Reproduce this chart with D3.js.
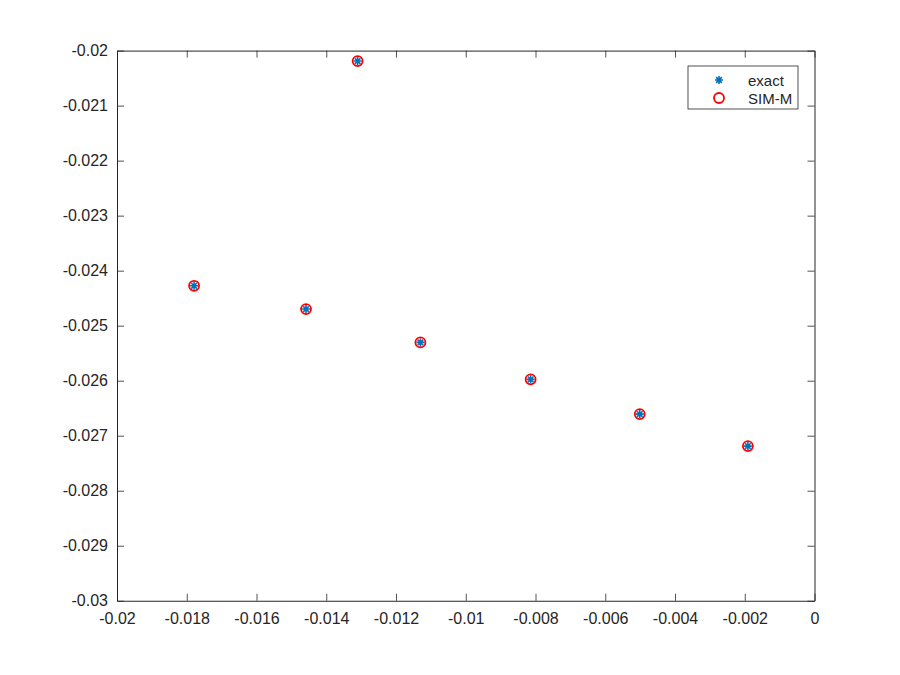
<!DOCTYPE html>
<html>
<head>
<meta charset="utf-8">
<script src="https://cdn.jsdelivr.net/npm/d3@7"></script>
<style>
  body { margin: 0; background: #fff; }
  text { font-family: "Liberation Sans", Arial, sans-serif; fill: #262626; }
</style>
</head>
<body>
<div id="chartDiv"></div>
<script>
// values
let xValues = [-0.01779, -0.01458, -0.01310, -0.01130, -0.00814, -0.00501, -0.00191];
let exactValues = [-0.024275, -0.024698, -0.02019, -0.025304, -0.025976, -0.026607, -0.027189];
let simValues = [-0.024275, -0.024698, -0.02019, -0.025304, -0.025976, -0.026607, -0.027189];
let xTicks = [-0.02, -0.018, -0.016, -0.014, -0.012, -0.01, -0.008, -0.006, -0.004, -0.002, 0];
let yTicks = [-0.02, -0.021, -0.022, -0.023, -0.024, -0.025, -0.026, -0.027, -0.028, -0.029, -0.03];
let seriesNames = ['exact', 'SIM-M'];

let margin = {top: 50.6, right: 85.5, bottom: 74.25, left: 117};
let width = 900 - margin.left - margin.right;
let height = 675 - margin.top - margin.bottom;

let svg = d3.select('#chartDiv')
    .append('svg')
    .attr('width', 900)
    .attr('height', 675)
    .append('g')
    .attr('transform', 'translate(' + margin.left + ',' + margin.top + ')');

let xScale = d3.scaleLinear().domain([-0.02, 0]).range([0, width]);
let yScale = d3.scaleLinear().domain([-0.03, -0.02]).range([height, 0]);

let fmt = function(d) { return String(+d.toFixed(4)); };
let tickLen = 7;

// axes with inward ticks on all four sides
let axes = [
    {axis: d3.axisBottom(xScale).tickValues(xTicks).tickFormat(fmt).tickSizeInner(-tickLen).tickSizeOuter(0).tickPadding(12), t: 'translate(0,' + height + ')'},
    {axis: d3.axisTop(xScale).tickValues(xTicks).tickFormat('').tickSizeInner(-tickLen).tickSizeOuter(0), t: 'translate(0,0)'},
    {axis: d3.axisLeft(yScale).tickValues(yTicks).tickFormat(fmt).tickSizeInner(-tickLen).tickSizeOuter(0).tickPadding(9), t: 'translate(0,0)'},
    {axis: d3.axisRight(yScale).tickValues(yTicks).tickFormat('').tickSizeInner(-tickLen).tickSizeOuter(0), t: 'translate(' + width + ',0)'}
];
axes.forEach(function(a) {
    let g = svg.append('g').attr('transform', a.t).call(a.axis);
    g.select('.domain').attr('stroke', '#262626').attr('stroke-width', 1);
    g.selectAll('.tick line').attr('stroke', '#262626').attr('stroke-width', 0.8);
    g.selectAll('text').attr('font-size', 16).attr('fill', '#262626')
        .style('font-family', '"Liberation Sans", Arial, sans-serif');
});

// eight-armed asterisk like the one in the picture
let asterisk = {
    draw: function(context, size) {
        let r = Math.sqrt(size) / 2;
        let d = r * Math.SQRT1_2;
        context.moveTo(-r, 0); context.lineTo(r, 0);
        context.moveTo(0, -r); context.lineTo(0, r);
        context.moveTo(-d, -d); context.lineTo(d, d);
        context.moveTo(-d, d); context.lineTo(d, -d);
    }
};
let starPath = d3.symbol().type(asterisk).size(64)();

let exactData = xValues.map(function(x, i) { return {x: x, y: exactValues[i]}; });
let simData = xValues.map(function(x, i) { return {x: x, y: simValues[i]}; });

svg.selectAll('.exact')
    .data(exactData)
    .enter()
    .append('path')
    .attr('class', 'exact')
    .attr('d', starPath)
    .attr('transform', function(d) { return 'translate(' + xScale(d.x) + ',' + yScale(d.y) + ')'; })
    .attr('fill', 'none')
    .attr('stroke', '#0072BD')
    .attr('stroke-width', 1.6);

svg.selectAll('.sim')
    .data(simData)
    .enter()
    .append('circle')
    .attr('class', 'sim')
    .attr('cx', function(d) { return xScale(d.x); })
    .attr('cy', function(d) { return yScale(d.y); })
    .attr('r', 5)
    .attr('fill', 'none')
    .attr('stroke', '#ff0000')
    .attr('stroke-width', 1.8);

// legend
let legend = svg.append('g').attr('transform', 'translate(' + (688 - margin.left) + ',' + (66 - margin.top) + ')');
legend.append('rect')
    .attr('width', 110)
    .attr('height', 43)
    .attr('fill', '#fff')
    .attr('stroke', '#262626')
    .attr('stroke-width', 0.8);

seriesNames.forEach(function(name, i) {
    let cy = 14 + i * 18;
    if (i === 0) {
        legend.append('path').attr('d', starPath)
            .attr('transform', 'translate(31,' + cy + ')')
            .attr('fill', 'none').attr('stroke', '#0072BD').attr('stroke-width', 1.6);
    } else {
        legend.append('circle').attr('cx', 31).attr('cy', cy).attr('r', 5)
            .attr('fill', 'none').attr('stroke', '#ff0000').attr('stroke-width', 1.8);
    }
    legend.append('text')
        .attr('x', 60)
        .attr('y', cy + 5.5)
        .attr('font-size', 15)
        .text(name);
});
</script>
</body>
</html>
